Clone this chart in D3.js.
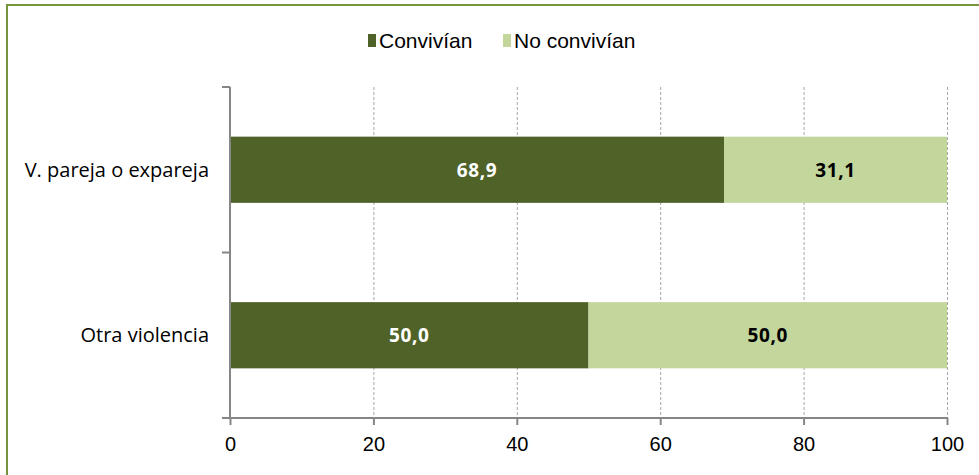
<!DOCTYPE html>
<html>
<head>
<meta charset="utf-8">
<script src="https://cdn.jsdelivr.net/npm/d3@7"></script>
<style>
  body { margin: 0; background: #fff; }
  svg { display: block; }
</style>
</head>
<body>
<svg id="chart" width="979" height="475"></svg>
<script>
// categorías y series
var categories = ["V. pareja o expareja", "Otra violencia"];
var seriesNames = ["Convivían", "No convivían"];
var convivian = [68.9, 50.0];
var noConvivian = [31.1, 50.0];
var xTicks = [0, 20, 40, 60, 80, 100];

var colors = ["#4f6228", "#c3d69b"];
var labelColors = ["#ffffff", "#000000"];

(function() {
  var svg = d3.select("#chart");
  var pLeft = 230, pRight = 947, pTop = 87, pBottom = 418;
  var narrowFont = "'Liberation Sans', Arial, sans-serif";

  // marco verde
  svg.append("rect")
    .attr("x", 7).attr("y", 5)
    .attr("width", 1000).attr("height", 500)
    .attr("fill", "none")
    .attr("stroke", "#77933c")
    .attr("stroke-width", 2);

  var x = d3.scaleLinear().domain([0, 100]).range([pLeft, pRight]);
  var y = d3.scaleBand().domain(categories).range([pTop, pBottom]).paddingInner(0.6).paddingOuter(0.3);

  // rejilla
  svg.append("g")
    .selectAll("line")
    .data(xTicks.slice(1))
    .join("line")
    .attr("x1", d => x(d) + 0.5).attr("x2", d => x(d) + 0.5)
    .attr("y1", pTop).attr("y2", pBottom)
    .attr("stroke", "#a6a6a6")
    .attr("stroke-dasharray", "3,2");

  // barras apiladas
  var stack = [];
  categories.forEach((c, i) => {
    var acc = 0;
    [convivian[i], noConvivian[i]].forEach((v, k) => {
      stack.push({ cat: c, k: k, x0: acc, x1: acc + v, v: v });
      acc += v;
    });
  });

  svg.append("g")
    .selectAll("rect")
    .data(stack)
    .join("rect")
    .attr("x", d => x(d.x0))
    .attr("width", d => x(d.x1) - x(d.x0))
    .attr("y", d => y(d.cat))
    .attr("height", y.bandwidth())
    .attr("fill", d => colors[d.k]);

  svg.append("g")
    .selectAll("text")
    .data(stack)
    .join("text")
    .attr("x", d => (x(d.x0) + x(d.x1)) / 2)
    .attr("y", d => y(d.cat) + y.bandwidth() / 2)
    .attr("dy", "0.36em")
    .attr("text-anchor", "middle")
    .attr("font-family", "'Open Sans', sans-serif")
    .attr("font-weight", "bold")
    .attr("font-size", 19)
    .attr("letter-spacing", 0.6)
    .attr("fill", d => labelColors[d.k])
    .text(d => d3.format(".1f")(d.v).replace(".", ","));

  // eje x
  var axisColor = "#868686";
  var gx = svg.append("g")
    .attr("transform", "translate(0," + pBottom + ")")
    .call(d3.axisBottom(x).tickValues(xTicks).tickSize(7).tickSizeOuter(0).tickPadding(12));
  gx.attr("font-family", narrowFont).attr("font-size", 20);
  gx.select(".domain").attr("stroke", axisColor).attr("stroke-width", 2)
    .attr("d", "M" + (pLeft - 8) + ",0H" + (pRight + 1));
  gx.selectAll(".tick line").attr("stroke", axisColor).attr("stroke-width", 2);
  gx.selectAll(".tick text").attr("fill", "#000");

  // eje y
  var gy = svg.append("g");
  gy.append("line")
    .attr("x1", pLeft).attr("x2", pLeft)
    .attr("y1", pTop).attr("y2", pBottom)
    .attr("stroke", axisColor).attr("stroke-width", 2);
  var bounds = [pTop, (y(categories[0]) + y.bandwidth() + y(categories[1])) / 2];
  gy.selectAll("line.tk")
    .data(bounds)
    .join("line")
    .attr("class", "tk")
    .attr("x1", pLeft - 8).attr("x2", pLeft)
    .attr("y1", d => d).attr("y2", d => d)
    .attr("stroke", axisColor).attr("stroke-width", 2);
  gy.selectAll("text")
    .data(categories)
    .join("text")
    .attr("x", pLeft - 21)
    .attr("y", d => y(d) + y.bandwidth() / 2)
    .attr("dy", "0.36em")
    .attr("text-anchor", "end")
    .attr("font-family", "'Open Sans', sans-serif")
    .attr("font-size", 20)
    .attr("fill", "#000")
    .text(d => d);

  // leyenda
  var legend = svg.append("g").attr("transform", "translate(368,40)");
  var lx = [0, 135];
  seriesNames.forEach((n, i) => {
    legend.append("rect")
      .attr("x", lx[i]).attr("y", -6)
      .attr("width", 8).attr("height", 13)
      .attr("fill", colors[i]);
    legend.append("text")
      .attr("x", lx[i] + 11).attr("y", 0)
      .attr("dy", "0.36em")
      .attr("font-family", narrowFont)
      .attr("font-size", 21)
      .attr("fill", "#000")
      .text(n);
  });
})();
</script>
</body>
</html>
